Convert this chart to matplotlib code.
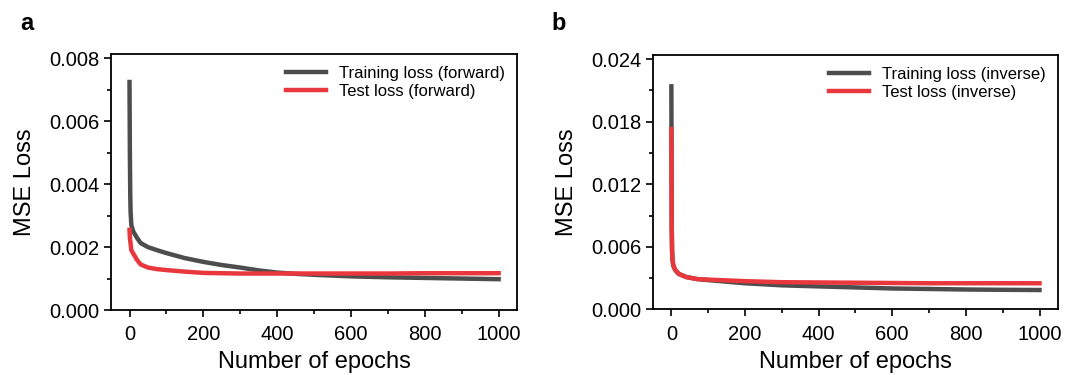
import numpy as np
import matplotlib.pyplot as plt
from matplotlib.ticker import MultipleLocator, FormatStrFormatter

plt.rcParams['font.family'] = ['Liberation Sans', 'DejaVu Sans']

# panel a (forward)
ep_train_a = [0, 1, 2, 3, 5, 10, 20, 30, 50, 75, 100, 150, 200, 250, 300, 350, 400,
              450, 500, 600, 700, 800, 900, 1000]
train_a = [0.00725, 0.0050, 0.0037, 0.0031, 0.0027, 0.0025, 0.0023, 0.00213, 0.0020,
           0.0019, 0.00181, 0.00165, 0.00153, 0.00143, 0.00135, 0.00126, 0.00119,
           0.00115, 0.00112, 0.00107, 0.00104, 0.00102, 0.00100, 0.00098]
ep_test_a = [0, 1, 3, 5, 10, 20, 30, 50, 75, 100, 150, 200, 300, 400, 500, 600, 700,
             800, 900, 1000]
test_a = [0.00255, 0.0023, 0.0021, 0.0019, 0.0018, 0.0016, 0.00145, 0.00135, 0.0013,
          0.00127, 0.00122, 0.00118, 0.00116, 0.00116, 0.00116, 0.00116, 0.00116,
          0.00117, 0.00117, 0.00117]

# panel b (inverse)
ep_train_b = [0, 1, 2, 3, 5, 10, 20, 40, 70, 100, 200, 300, 400, 500, 600, 700, 800,
              900, 1000]
train_b = [0.0214, 0.0080, 0.0055, 0.0048, 0.0042, 0.0038, 0.0034, 0.0031, 0.0029,
           0.0028, 0.0025, 0.0023, 0.0022, 0.0021, 0.0020, 0.00195, 0.0019, 0.00187,
           0.00185]
ep_test_b = [0, 1, 2, 3, 5, 10, 20, 40, 70, 100, 200, 300, 500, 700, 1000]
test_b = [0.0173, 0.0080, 0.0055, 0.0048, 0.0043, 0.0038, 0.0034, 0.0031, 0.0029,
          0.00285, 0.0027, 0.0026, 0.00255, 0.0025, 0.0025]

gray = '#4d4d4d'
red = '#e8383d'

fig = plt.figure(figsize=(10.75, 3.75), dpi=100)
ax1 = fig.add_axes([0.1033, 0.1733, 0.3777, 0.6827])
ax2 = fig.add_axes([0.6074, 0.1752, 0.3767, 0.678])

panels = [
    (ax1, ep_train_a, train_a, ep_test_a, test_a, 'forward', 0.00814, 0.002, 0.001),
    (ax2, ep_train_b, train_b, ep_test_b, test_b, 'inverse', 0.0244, 0.006, 0.003),
]

for ax, ex, tr, et, te, name, ytop, ymaj, ymin in panels:
    ax.plot(ex, tr, color=gray, lw=3.2, label='Training loss (%s)' % name)
    ax.plot(et, te, color=red, lw=3.2, label='Test loss (%s)' % name)
    ax.set_xlim(-50, 1050)
    ax.set_ylim(0, ytop)
    ax.xaxis.set_major_locator(MultipleLocator(200))
    ax.xaxis.set_minor_locator(MultipleLocator(100))
    ax.yaxis.set_major_locator(MultipleLocator(ymaj))
    ax.yaxis.set_minor_locator(MultipleLocator(ymin))
    ax.yaxis.set_major_formatter(FormatStrFormatter('%.3f'))
    ax.tick_params(which='major', direction='out', length=5, width=1.2, labelsize=14.5)
    ax.tick_params(axis='x', which='major', pad=6)
    ax.tick_params(which='minor', direction='out', length=3, width=1.2)
    for s in ax.spines.values():
        s.set_linewidth(1.3)
    ax.set_xlabel('Number of epochs', fontsize=17, labelpad=5)
    ax.set_ylabel('MSE Loss', fontsize=17, labelpad=9)
    ax.legend(loc='upper right', frameon=False, fontsize=12, handlelength=2.4,
              handletextpad=0.8, labelspacing=0.2, borderaxespad=0.3)

fig.text(0.019, 0.92, 'a', fontsize=17, fontweight='bold')
fig.text(0.513, 0.92, 'b', fontsize=17, fontweight='bold')

fig.savefig('out.png', dpi=100)
